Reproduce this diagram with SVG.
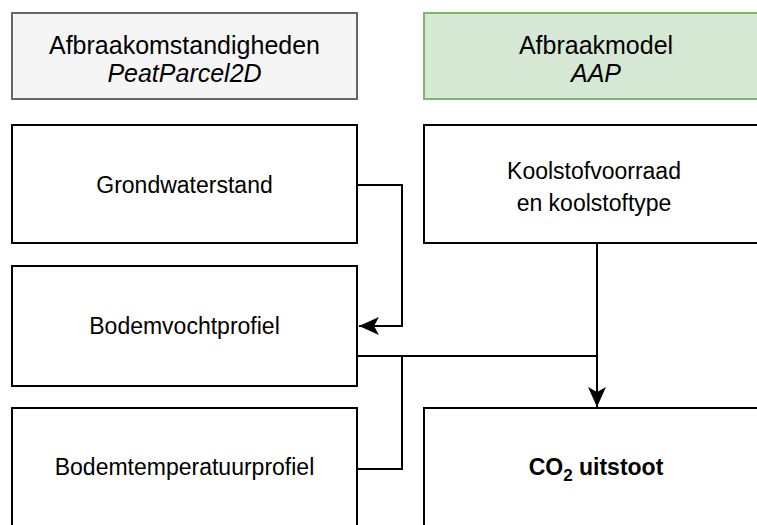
<svg xmlns="http://www.w3.org/2000/svg" width="757" height="525" viewBox="0 0 757 525">
  <style>
    .box { fill: #ffffff; stroke: #000000; stroke-width: 2; }
    .hdr { fill: #f5f5f5; stroke: #666666; stroke-width: 2; }
    .hdrg { fill: #d5e8d4; stroke: #82b366; stroke-width: 2; }
    text { font-family: "Liberation Sans", Arial, Helvetica, sans-serif; fill: #000000; text-anchor: middle; }
    .h { font-size: 25px; }
    .t { font-size: 23px; }
    .conn { fill: none; stroke: #000000; stroke-width: 2; }
  </style>
  <defs>
    <marker id="arr" viewBox="0 0 20 18" refX="20" refY="9" markerWidth="20" markerHeight="18" markerUnits="userSpaceOnUse" orient="auto">
      <path d="M0,0 L20,9 L0,18 L5,9 Z" fill="#000000"/>
    </marker>
  </defs>
  <rect width="757" height="525" fill="#ffffff"/>

  <g id="afbraakomstandigheden">
    <rect class="hdr" x="12" y="13" width="345" height="86"/>
    <text class="h" x="184.5" y="54">Afbraakomstandigheden</text>
    <text class="h" x="184.5" y="82" font-style="italic">PeatParcel2D</text>
  </g>
  <g id="afbraakmodel">
    <rect class="hdrg" x="424" y="13" width="345" height="86"/>
    <text class="h" x="596" y="54">Afbraakmodel</text>
    <text class="h" x="596" y="82" font-style="italic">AAP</text>
  </g>

  <g id="grondwaterstand">
    <rect class="box" x="12" y="125" width="345" height="118"/>
    <text class="t" x="184.5" y="193">Grondwaterstand</text>
  </g>
  <g id="koolstofvoorraad">
    <rect class="box" x="424" y="125" width="345" height="118"/>
    <text class="t" x="594" y="179">Koolstofvoorraad</text>
    <text class="t" x="594" y="211">en koolstoftype</text>
  </g>
  <g id="bodemvochtprofiel">
    <rect class="box" x="12" y="266" width="345" height="120"/>
    <text class="t" x="184.5" y="334">Bodemvochtprofiel</text>
  </g>
  <g id="bodemtemperatuurprofiel">
    <rect class="box" x="12" y="408" width="345" height="130"/>
    <text class="t" x="184.5" y="475">Bodemtemperatuurprofiel</text>
  </g>
  <g id="co2uitstoot">
    <rect class="box" x="424" y="408" width="345" height="130"/>
    <text class="t" x="596" y="475" font-weight="bold">CO<tspan font-size="17" dy="6">2</tspan><tspan dy="-6"> uitstoot</tspan></text>
  </g>

  <g id="connectors">
    <path class="conn" d="M357,185 H402 V326 H359" marker-end="url(#arr)"/>
    <path class="conn" d="M357,469 H402 V356"/>
    <path class="conn" d="M357,356 H597"/>
    <path class="conn" d="M597,243 V407" marker-end="url(#arr)"/>
  </g>
</svg>
